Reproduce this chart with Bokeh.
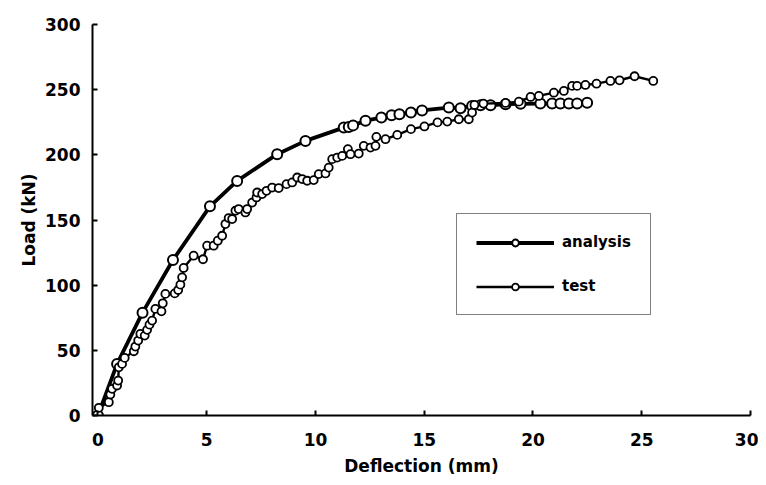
from bokeh.plotting import figure
from bokeh.models import Range1d, Legend, LegendItem, FixedTicker
from bokeh.embed import file_html
from bokeh.resources import INLINE

# ---- data ----
analysis_x = [0.0, 0.88, 2.05, 3.45, 5.15, 6.40, 8.24, 9.54, 11.30, 11.53, 11.73, 12.30,
              13.03, 13.50, 13.86, 14.39, 14.90, 16.13, 16.67, 17.20, 17.59, 18.05, 18.74,
              19.43, 20.34, 20.88, 21.26, 21.65, 22.03, 22.49]
analysis_y = [0.0, 39.6, 78.9, 119.3, 160.5, 180.0, 200.5, 210.7, 220.9, 221.4, 222.6, 226.2,
              228.6, 230.3, 231.2, 232.4, 234.1, 236.3, 235.8, 237.5, 238.1, 238.1, 238.8,
              239.1, 239.3, 239.3, 239.3, 239.3, 239.3, 240.0]

test_x = [0.04, 0.50, 0.57, 0.65, 0.88, 0.93, 0.96, 1.11, 1.23, 1.65, 1.72, 1.85, 1.95, 2.15,
          2.26, 2.37, 2.49, 2.64, 2.92, 2.98, 3.10, 3.53, 3.69, 3.79, 3.87, 3.94, 4.40, 4.83,
          5.02, 5.32, 5.51, 5.71, 5.86, 6.01, 6.17, 6.32, 6.47, 6.78, 6.86, 7.09, 7.29, 7.32,
          7.55, 7.75, 8.01, 8.31, 8.67, 8.93, 9.16, 9.39, 9.62, 9.92, 10.15, 10.46, 10.61,
          10.77, 11.00, 11.23, 11.49, 11.61, 11.99, 12.22, 12.53, 12.76, 12.80, 13.22, 13.76,
          14.39, 15.01, 15.61, 16.06, 16.59, 17.05, 17.20, 17.31, 17.72, 18.74, 19.35, 19.89,
          20.27, 20.96, 21.42, 21.80, 22.03, 22.41, 22.92, 23.56, 23.98, 24.67, 25.53]
test_y = [5.9, 10.2, 16.1, 20.5, 23.0, 26.8, 37.0, 39.6, 44.2, 49.3, 52.9, 57.5, 62.6, 61.3,
          65.7, 69.7, 72.8, 81.8, 79.9, 86.1, 93.3, 93.7, 96.3, 100.4, 106.0, 113.2, 122.6, 119.9,
          130.3, 130.3, 134.1, 137.9, 146.9, 151.5, 150.7, 157.1, 158.4, 155.8, 158.4, 163.4,
          167.3, 171.1, 169.9, 172.4, 174.9, 174.5, 177.5, 178.8, 182.6, 181.4, 180.1, 180.6,
          185.2, 185.7, 190.2, 196.7, 197.9, 199.2, 204.4, 200.5, 201.0, 206.9, 205.6, 206.9,
          213.8, 212.0, 215.3, 219.7, 221.8, 224.9, 225.5, 227.3, 227.3, 232.4, 238.3, 239.3,
          239.8, 240.8, 244.4, 245.2, 247.7, 249.0, 252.9, 252.9, 253.6, 254.6, 256.7, 257.2,
          260.3, 256.7]

x_ticks = [0, 5, 10, 15, 20, 25, 30]
y_ticks = [0, 50, 100, 150, 200, 250, 300]
x_title = "Deflection (mm)"
y_title = "Load (kN)"
series_names = ["analysis", "test"]

FONT = "DejaVu Sans"

p = figure(frame_width=658, frame_height=391,
           x_range=Range1d(-0.25, 30), y_range=Range1d(0, 300),
           output_backend="svg", toolbar_location=None,
           min_border_left=92, min_border_top=24, min_border_right=8, min_border_bottom=70,
           background_fill_color="white", border_fill_color="white")
p.outline_line_color = None
p.grid.visible = False

for ax in (p.xaxis[0], p.yaxis[0]):
    ax.axis_line_color = "black"
    ax.axis_line_width = 2
    ax.major_tick_line_color = "black"
    ax.major_tick_line_width = 2
    ax.major_tick_in = 5
    ax.major_tick_out = 0
    ax.minor_tick_line_color = None
    ax.major_label_text_font = FONT
    ax.major_label_text_font_style = "bold"
    ax.major_label_text_font_size = "17px"
    ax.major_label_text_color = "black"
    ax.axis_label_text_font = FONT
    ax.axis_label_text_font_style = "bold"
    ax.axis_label_text_font_size = "17px"
    ax.axis_label_text_color = "black"

p.xaxis.ticker = FixedTicker(ticks=x_ticks)
p.yaxis.ticker = FixedTicker(ticks=y_ticks)
p.xaxis.axis_label = x_title
p.yaxis.axis_label = y_title
p.xaxis.major_label_standoff = 17
p.xaxis.axis_label_standoff = 7
p.yaxis.major_label_standoff = 12
p.yaxis.axis_label_standoff = 3

la = p.line(analysis_x, analysis_y, line_width=3.8, line_color="black")
sa = p.scatter(analysis_x, analysis_y, size=10, fill_color="white", line_color="black", line_width=2)
lt = p.line(test_x, test_y, line_width=2.4, line_color="black")
st = p.scatter(test_x, test_y, size=8, fill_color="white", line_color="black", line_width=1.8)

legend = Legend(items=[LegendItem(label=series_names[0], renderers=[la, sa]),
                       LegendItem(label=series_names[1], renderers=[lt, st])],
                location=(364, 100))
legend.border_line_color = "black"
legend.border_line_width = 1.5
legend.background_fill_color = "white"
legend.background_fill_alpha = 1
legend.padding = 19
legend.spacing = 26
legend.glyph_width = 78
legend.glyph_height = 17
legend.label_standoff = 8
legend.label_text_font = FONT
legend.label_text_font_style = "bold"
legend.label_text_font_size = "15px"
legend.label_text_color = "black"
legend.margin = 0
p.add_layout(legend, "center")

open("out.html", "w").write(file_html(p, INLINE))
